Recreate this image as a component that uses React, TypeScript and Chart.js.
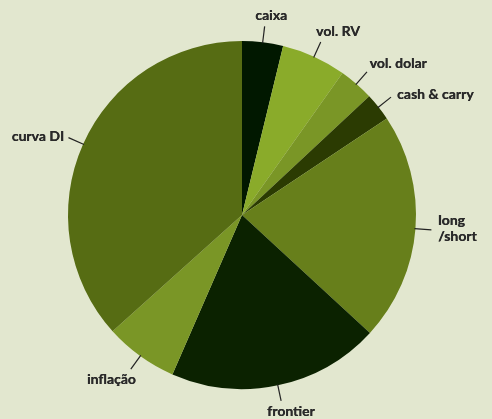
import React, { useEffect, useRef } from "react";
import { Chart, registerables } from "chart.js";

Chart.register(...registerables);

const categories = ["caixa", "vol. RV", "vol. dolar", "cash & carry", "long\n/short", "frontier", "inflação", "curva DI"];
const values = [3.8, 6.0, 3.25, 2.6, 21.2, 19.7, 6.8, 36.65];
const colors = ["#011800", "#8aab2a", "#7a9626", "#2b3b02", "#677f1b", "#0b2200", "#7a9626", "#566c13"];

// label layout relative to the end of each leader line: [dx, dy, align]
const labelLayout: [number, number, CanvasTextAlign][] = [
  [6.5, -11, "center"],
  [-4.7, -10.6, "left"],
  [2.6, -8.3, "left"],
  [6, -3, "left"],
  [6.7, -9.7, "left"],
  [9.8, 11, "center"],
  [-19.4, 10, "center"],
  [-4.4, -1, "right"],
];

const labelPlugin = {
  id: "pieLabels",
  afterDatasetsDraw(chart: any) {
    const ctx = chart.ctx;
    const meta = chart.getDatasetMeta(0);
    ctx.save();
    ctx.font = "bold 14px Lato, 'Open Sans', sans-serif";
    ctx.fillStyle = "#2a2a2a";
    ctx.strokeStyle = "#222222";
    ctx.lineWidth = 1.2;
    ctx.textBaseline = "middle";
    meta.data.forEach((arc: any, i: number) => {
      const { x, y, startAngle, endAngle, outerRadius } = arc.getProps(["x", "y", "startAngle", "endAngle", "outerRadius"], true);
      const mid = (startAngle + endAngle) / 2;
      const r1 = outerRadius - 1;
      const r2 = outerRadius + 16;
      const sx = x + Math.cos(mid) * r1;
      const sy = y + Math.sin(mid) * r1;
      const ex = x + Math.cos(mid) * r2;
      const ey = y + Math.sin(mid) * r2;
      ctx.beginPath();
      ctx.moveTo(sx, sy);
      ctx.lineTo(ex, ey);
      ctx.stroke();
      const [dx, dy, align] = labelLayout[i];
      ctx.textAlign = align;
      const lines = String(categories[i]).split("\n");
      lines.forEach((ln, j) => {
        const tx = ex + dx;
        const ty = ey + dy + j * 16;
        ctx.fillText(ln, tx, ty);
        ctx.fillText(ln, tx + 0.3, ty);
      });
    });
    ctx.restore();
  },
};

export default function App() {
  const ref = useRef<HTMLCanvasElement | null>(null);
  useEffect(() => {
    document.body.style.margin = "0";
    const chart = new Chart(ref.current as HTMLCanvasElement, {
      type: "pie",
      data: {
        labels: categories,
        datasets: [
          {
            data: values,
            backgroundColor: colors,
            borderWidth: 0,
          },
        ],
      },
      options: {
        responsive: false,
        animation: false,
        layout: { padding: { left: 68, right: 76, top: 41, bottom: 30 } },
        plugins: {
          legend: { display: false },
          tooltip: { enabled: false },
        },
      },
      plugins: [labelPlugin],
    });
    return () => chart.destroy();
  }, []);
  return (
    <div style={{ position: "absolute", left: 0, top: 0, width: 492, height: 419, background: "#e2e7cf" }}>
      <canvas ref={ref} width={492} height={419} />
    </div>
  );
}
